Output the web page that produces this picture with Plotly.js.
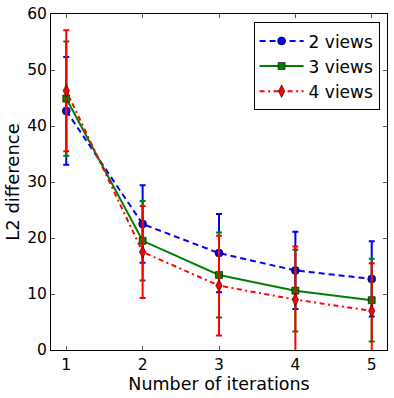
<!DOCTYPE html>
<html>
<head>
<meta charset="utf-8">
<script src="https://cdn.plot.ly/plotly-3.0.1.min.js"></script>
<style>html,body{margin:0;padding:0;background:#fff;}#chart{width:394px;height:398px;}</style>
</head>
<body>
<div id="chart"></div>
<script>
const iterations = [1, 2, 3, 4, 5];
const seriesNames = ["2 views", "3 views", "4 views"];
const views2 = [42.7, 22.5, 17.3, 14.2, 12.7];
const views2Err = [9.6, 6.9, 7.0, 6.9, 6.7];
const views3 = [44.9, 19.5, 13.4, 10.6, 8.9];
const views3Err = [10.2, 7.1, 7.6, 7.3, 7.4];
const views4 = [46.3, 17.5, 11.5, 9.0, 7.0];
const views4Err = [10.8, 8.2, 8.9, 9.5, 8.5];
const yTicks = [0, 10, 20, 30, 40, 50, 60];

const colors = ["#0000ff", "#008000", "#ff0000"];
const dashes = ["6px,4px", "solid", "5px,3.5px,2px,3.5px"];
const symbols = ["circle", "square", "diamond-tall"];
const sizes = [8, 7, 9];
const ys = [views2, views3, views4];
const errs = [views2Err, views3Err, views4Err];

const traces = seriesNames.map((name, i) => ({
  type: "scatter",
  mode: "lines+markers",
  name: name,
  x: iterations,
  y: ys[i],
  line: {color: colors[i], width: 2, dash: dashes[i]},
  marker: {symbol: symbols[i], size: sizes[i], color: colors[i], line: {color: "#000", width: 0.6}},
  error_y: {type: "data", array: errs[i], visible: true, color: colors[i], thickness: 2, width: 3}
}));

const font = "DejaVu Sans, sans-serif";
const layout = {
  width: 394, height: 398,
  margin: {l: 51, r: 7, t: 14, b: 48},
  paper_bgcolor: "#fff", plot_bgcolor: "#fff",
  font: {family: font, size: 15, color: "#000"},
  showlegend: true,
  legend: {
    x: 0.978, y: 0.975, xanchor: "right", yanchor: "top",
    bgcolor: "#fff", bordercolor: "#000", borderwidth: 1,
    font: {family: font, size: 17}, itemwidth: 44, tracegroupgap: 0
  },
  xaxis: {
    range: [0.8, 5.2], tickvals: iterations, ticktext: iterations.map(String),
    showgrid: false, zeroline: false, showline: true, linecolor: "#000", linewidth: 1, mirror: "ticks",
    ticks: "inside", ticklen: 4, tickcolor: "#555", tickwidth: 1,
    tickfont: {family: font, size: 15.5},
    title: {text: "Number of iterations", font: {family: font, size: 17.5}, standoff: 5}
  },
  yaxis: {
    range: [0, 60], tickvals: yTicks, ticktext: yTicks.map(String),
    showgrid: false, zeroline: false, showline: true, linecolor: "#000", linewidth: 1, mirror: "ticks",
    ticks: "inside", ticklen: 4, tickcolor: "#555", tickwidth: 1,
    tickfont: {family: font, size: 15.5},
    title: {text: "L2 difference", font: {family: font, size: 18}, standoff: 2}
  }
};

Plotly.newPlot("chart", traces, layout, {staticPlot: true, displayModeBar: false});
</script>
</body>
</html>
